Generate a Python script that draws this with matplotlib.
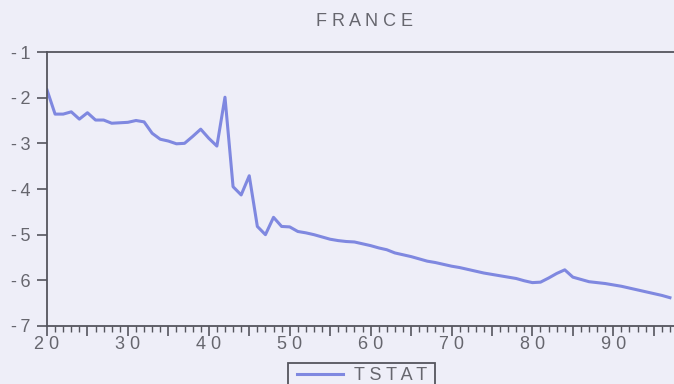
import matplotlib
matplotlib.use("Agg")
import matplotlib.pyplot as plt
from matplotlib.ticker import MultipleLocator
from matplotlib.patches import Rectangle

years = list(range(20, 98))
tstat = [-1.83, -2.36, -2.36, -2.31, -2.47, -2.33, -2.49, -2.49, -2.56, -2.55,
         -2.54, -2.50, -2.53, -2.78, -2.91, -2.95, -3.01, -3.00, -2.85, -2.69,
         -2.89, -3.06, -1.99, -3.95, -4.13, -3.71, -4.82, -5.00, -4.62, -4.82,
         -4.83, -4.93, -4.96, -5.00, -5.05, -5.10, -5.13, -5.15, -5.16, -5.20,
         -5.24, -5.29, -5.33, -5.40, -5.44, -5.48, -5.53, -5.58, -5.61, -5.65,
         -5.69, -5.72, -5.76, -5.80, -5.84, -5.87, -5.90, -5.93, -5.96, -6.01,
         -6.05, -6.04, -5.95, -5.85, -5.77, -5.93, -5.98, -6.03, -6.05, -6.07,
         -6.10, -6.13, -6.17, -6.21, -6.25, -6.29, -6.33, -6.38]
yticks = [-1, -2, -3, -4, -5, -6, -7]
xticks = [20, 30, 40, 50, 60, 70, 80, 90]

plt.rcParams['font.family'] = ['Liberation Sans', 'DejaVu Sans']
bg = '#eeeef8'
spine_c = '#55555e'
text_c = '#66666e'
line_c = '#7f88e0'

def spaced(s, sep=' '):
    return sep.join(list(s))

fig = plt.figure(figsize=(6.74, 3.84), dpi=100, facecolor=bg)
left = 47 / 674
ax = fig.add_axes([left, 1 - 326 / 384, 1 - left, (326 - 52) / 384])
ax.set_facecolor(bg)
ax.plot(years, tstat, color=line_c, lw=2.2, label=spaced('TSTAT'))
xmax = 20 + (674 - 47) / 8.09
ax.set_ylim(-7, -1)
ax.set_yticks(yticks)
ax.set_yticklabels([spaced(str(v), '\u2009') for v in yticks])

# major ticks every 5 (labels only at the tens), minor every 1
ax.xaxis.set_major_locator(MultipleLocator(5))
ax.xaxis.set_minor_locator(MultipleLocator(1))
ax.set_xlim(20, xmax)
ticks5 = [t for t in range(20, 98, 5)]
ax.set_xticks(ticks5)
ax.set_xticklabels([spaced(str(t)) if t in xticks else '' for t in ticks5])
ax.set_xlim(20, xmax)

ax.spines['right'].set_visible(False)
for s in ['left', 'bottom', 'top']:
    ax.spines[s].set_color(spine_c)
    ax.spines[s].set_linewidth(1.3)
ax.tick_params(axis='x', which='major', direction='out', length=7, width=1.2,
               color=spine_c, labelcolor=text_c, labelsize=13, pad=0)
ax.tick_params(axis='x', which='minor', direction='out', length=4, width=1.0, color=spine_c)
ax.tick_params(axis='y', which='major', direction='out', length=7.5, width=1.2,
               color=spine_c, labelcolor=text_c, labelsize=13, pad=4.5)

fig.text(365 / 674, 1 - 21 / 384, spaced('FRANCE'), ha='center', va='center',
         fontsize=13, color=text_c)

leg = fig.legend(loc='center left', bbox_to_anchor=(297 / 674, 1 - 376 / 384),
                 fontsize=13, frameon=False, handlelength=2.55, handletextpad=0.6,
                 borderpad=0, borderaxespad=0, labelcolor=text_c)
fig.add_artist(Rectangle((288 / 674, -0.05), (435 - 288) / 674, 0.05 + 1 - 363 / 384,
                         transform=fig.transFigure, fill=False, edgecolor=spine_c,
                         linewidth=1.3))

fig.savefig('out.png', dpi=100, facecolor=bg)
